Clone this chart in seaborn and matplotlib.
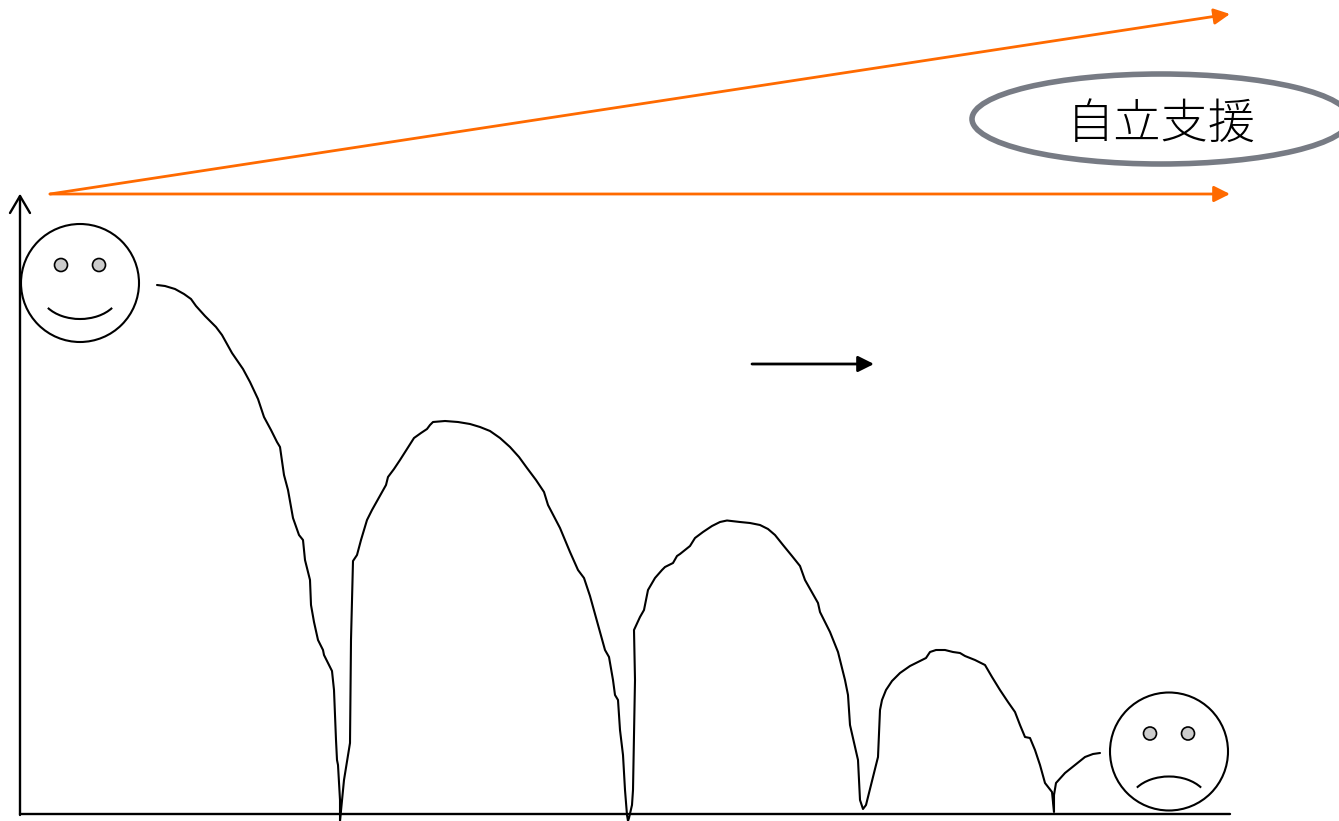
import matplotlib
matplotlib.use("Agg")
import matplotlib.pyplot as plt
from matplotlib.patches import Circle, Ellipse, Arc
import pandas as pd
import seaborn as sns

# everything in pixel units
curve_x = [157,165,175,184,191,196,205,216,222,232,243,250,258,264,271,277,280,284,288,293,299,
           303,305,310,311,314,318,323,324,332,334,336,337,338,340,340,
           344,350,351,352,353,357,361,367,372,377,386,388,394,400,407,414,421,427,430,433,
           445,458,470,480,490,500,510,519,527,536,544,548,560,570,578,584,
           590,598,605,609,613,615,618,620,623,625,627,628,629,632,633,635,634,640,644,648,655,662,665,673,677,680,690,
           695,703,712,720,727,740,750,760,768,775,783,792,800,805,818,820,830,838,845,848,850,858,860,863,866,878,
           880,882,886,892,900,910,920,926,930,936,945,953,960,965,975,985,992,1000,1008,1015,1020,1025,
           1030,1035,1040,1045,1052,1054,1054,1056,1065,1085,1093,1100]
curve_y = [285,286,289,294,299,306,316,327,335,353,369,382,399,417,430,442,447,475,490,518,535,
           540,560,580,605,622,640,650,655,671,690,740,760,765,800,821,
           780,743,640,600,561,555,540,520,510,501,485,477,469,460,449,438,433,429,425,422,
           421,422,424,427,431,438,447,457,468,480,492,505,528,552,570,578,
           596,625,650,657,680,695,700,730,755,790,815,821,818,805,790,680,630,617,610,590,578,570,567,563,556,554,546,
           538,532,526,522,520.5,522,523,525,529,535,545,556,566,580,603,612,632,652,680,695,725,760,800,809,805,757,
           710,700,690,681,673,666,661,658,652,650,650,652,653,656,660,665,677,690,702,712,725,737,
           738,750,765,783,792,812,795,783,773,757,754,753]
label = "自立支援"

sns.set_style("white")
plt.rcParams["font.family"] = ["Noto Sans CJK JP", "DejaVu Sans"]

fig = plt.figure(figsize=(13.39, 8.21), dpi=100)
ax = fig.add_axes([0, 0, 1, 1])

df = pd.DataFrame({"x": curve_x, "y": curve_y})
sns.lineplot(data=df, x="x", y="y", sort=False, estimator=None, color="black", lw=1.5, ax=ax)

ax.set_xlim(0, 1339)
ax.set_ylim(821, 0)
ax.axis("off")

# axes of the sketch
ax.plot([20, 1230], [814, 814], color="black", lw=1.7)
ax.plot([20, 20], [815, 196], color="black", lw=1.7)
ax.plot([10, 20, 30], [213, 196, 213], color="black", lw=1.7)

# orange arrows
orange = "#ff6a00"
for end in [(1230, 14), (1230, 194)]:
    ax.annotate("", xy=end, xytext=(50, 194), arrowprops=dict(arrowstyle="-|>", color=orange, lw=2, mutation_scale=24, shrinkA=0, shrinkB=0))

ax.annotate("", xy=(874, 364), xytext=(752, 364), arrowprops=dict(arrowstyle="-|>", color="black", lw=2, mutation_scale=24, shrinkA=0, shrinkB=0))

# ellipse and label
ax.add_patch(Ellipse((1161, 119), 378, 90, fc="white", ec="#777b84", lw=4, zorder=3))
ax.text(1161, 124, label, fontsize=34, ha="center", va="center", color="black", zorder=4, fontweight="light")

# faces
for cx, cy, happy in [(80, 283, True), (1169, 751.5, False)]:
    ax.add_patch(Circle((cx, cy), 59, fc="white", ec="black", lw=1.5, zorder=3))
    for dx in (-19, 19):
        ax.add_patch(Circle((cx + dx, cy - 18), 6.5, fc="#cccccc", ec="black", lw=1.2, zorder=4))
    if happy:
        ax.add_patch(Arc((cx, cy + 8.5), 80, 55, theta1=27, theta2=153, color="black", lw=1.5, zorder=4))
    else:
        ax.add_patch(Arc((cx, cy + 52.5), 80, 55, theta1=207, theta2=333, color="black", lw=1.5, zorder=4))

fig.savefig("out.png", dpi=100)
